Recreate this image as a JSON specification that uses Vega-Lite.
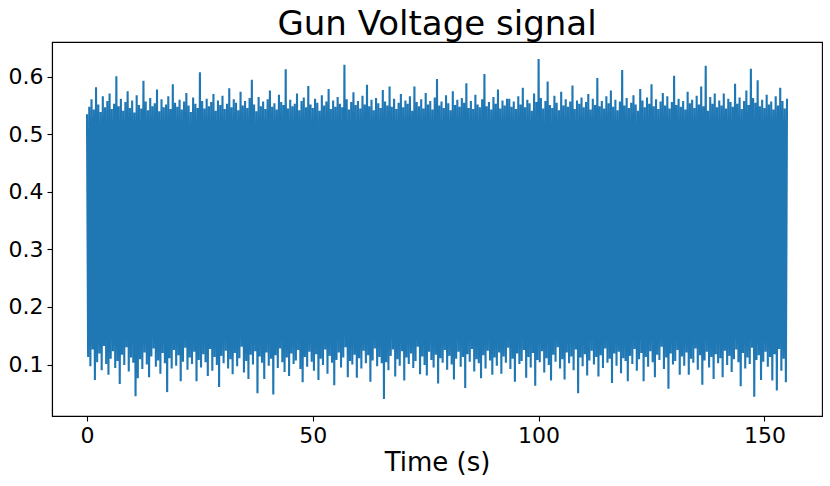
{
"$schema": "https://vega.github.io/schema/vega-lite/v6.json",
"width": 770,
"height": 374,
"autosize": "none",
"padding": {"left": 52, "top": 42, "right": 8, "bottom": 70},
"background": "white",
"title": {"text": "Gun Voltage signal", "font": "DejaVu Sans", "fontSize": 34, "fontWeight": "normal", "color": "black", "anchor": "middle", "baseline": "alphabetic", "offset": 9, "dy": 36},
"config": {
"view": {"stroke": "black", "strokeWidth": 1.1},
"axis": {"grid": false, "domainColor": "black", "domainWidth": 1.1, "tickColor": "black", "tickWidth": 1.1, "tickSize": 5, "labelColor": "black", "titleColor": "black", "labelFont": "DejaVu Sans", "titleFont": "DejaVu Sans", "labelFontSize": 22, "titleFontSize": 26, "titleFontWeight": "normal", "labelPadding": 4}
},
"data": {"values": [
{"t":0,"v":0.535},{"t":0.25,"v":0.113},{"t":0.5,"v":0.548},{"t":0.75,"v":0.097},{"t":1,"v":0.561},{"t":1.25,"v":0.126},{"t":1.5,"v":0.543},{"t":1.75,"v":0.073},{"t":2,"v":0.582},{"t":2.25,"v":0.104},{"t":2.5,"v":0.552},{"t":2.75,"v":0.119},{"t":3,"v":0.539},{"t":3.25,"v":0.090},{"t":3.5,"v":0.566},{"t":3.75,"v":0.132},{"t":4,"v":0.547},{"t":4.25,"v":0.101},{"t":4.5,"v":0.558},{"t":4.75,"v":0.082},{"t":5,"v":0.571},{"t":5.25,"v":0.110},{"t":5.5,"v":0.544},{"t":5.75,"v":0.123},{"t":6,"v":0.553},{"t":6.25,"v":0.094},{"t":6.5,"v":0.601},{"t":6.75,"v":0.106},{"t":7,"v":0.549},{"t":7.25,"v":0.066},{"t":7.5,"v":0.562},{"t":7.75,"v":0.117},{"t":8,"v":0.541},{"t":8.25,"v":0.099},{"t":8.5,"v":0.556},{"t":8.75,"v":0.130},{"t":9,"v":0.575},{"t":9.25,"v":0.088},{"t":9.5,"v":0.546},{"t":9.75,"v":0.112},
{"t":10,"v":0.559},{"t":10.25,"v":0.103},{"t":10.5,"v":0.538},{"t":10.75,"v":0.045},{"t":11,"v":0.568},{"t":11.25,"v":0.076},{"t":11.5,"v":0.551},{"t":11.75,"v":0.109},{"t":12,"v":0.545},{"t":12.25,"v":0.092},{"t":12.5,"v":0.593},{"t":12.75,"v":0.121},{"t":13,"v":0.557},{"t":13.25,"v":0.100},{"t":13.5,"v":0.542},{"t":13.75,"v":0.078},{"t":14,"v":0.563},{"t":14.25,"v":0.114},{"t":14.5,"v":0.549},{"t":14.75,"v":0.128},{"t":15,"v":0.554},{"t":15.25,"v":0.096},{"t":15.5,"v":0.578},{"t":15.75,"v":0.107},{"t":16,"v":0.540},{"t":16.25,"v":0.084},{"t":16.5,"v":0.561},{"t":16.75,"v":0.120},{"t":17,"v":0.547},{"t":17.25,"v":0.102},{"t":17.5,"v":0.552},{"t":17.75,"v":0.052},{"t":18,"v":0.566},{"t":18.25,"v":0.111},{"t":18.5,"v":0.544},{"t":18.75,"v":0.093},{"t":19,"v":0.587},{"t":19.25,"v":0.125},{"t":19.5,"v":0.555},{"t":19.75,"v":0.098},
{"t":20,"v":0.548},{"t":20.25,"v":0.116},{"t":20.5,"v":0.560},{"t":20.75,"v":0.071},{"t":21,"v":0.543},{"t":21.25,"v":0.105},{"t":21.5,"v":0.557},{"t":21.75,"v":0.129},{"t":22,"v":0.572},{"t":22.25,"v":0.091},{"t":22.5,"v":0.550},{"t":22.75,"v":0.112},{"t":23,"v":0.539},{"t":23.25,"v":0.101},{"t":23.5,"v":0.564},{"t":23.75,"v":0.122},{"t":24,"v":0.553},{"t":24.25,"v":0.071},{"t":24.5,"v":0.546},{"t":24.75,"v":0.108},{"t":25,"v":0.608},{"t":25.25,"v":0.095},{"t":25.5,"v":0.558},{"t":25.75,"v":0.118},{"t":26,"v":0.545},{"t":26.25,"v":0.104},{"t":26.5,"v":0.562},{"t":26.75,"v":0.080},{"t":27,"v":0.549},{"t":27.25,"v":0.127},{"t":27.5,"v":0.556},{"t":27.75,"v":0.089},{"t":28,"v":0.570},{"t":28.25,"v":0.113},{"t":28.5,"v":0.541},{"t":28.75,"v":0.099},{"t":29,"v":0.559},{"t":29.25,"v":0.061},{"t":29.5,"v":0.551},{"t":29.75,"v":0.115},
{"t":30,"v":0.567},{"t":30.25,"v":0.102},{"t":30.5,"v":0.544},{"t":30.75,"v":0.124},{"t":31,"v":0.553},{"t":31.25,"v":0.093},{"t":31.5,"v":0.580},{"t":31.75,"v":0.109},{"t":32,"v":0.547},{"t":32.25,"v":0.083},{"t":32.5,"v":0.561},{"t":32.75,"v":0.120},{"t":33,"v":0.555},{"t":33.25,"v":0.097},{"t":33.5,"v":0.542},{"t":33.75,"v":0.111},{"t":34,"v":0.574},{"t":34.25,"v":0.131},{"t":34.5,"v":0.550},{"t":34.75,"v":0.086},{"t":35,"v":0.558},{"t":35.25,"v":0.106},{"t":35.5,"v":0.546},{"t":35.75,"v":0.075},{"t":36,"v":0.563},{"t":36.25,"v":0.117},{"t":36.5,"v":0.595},{"t":36.75,"v":0.100},{"t":37,"v":0.552},{"t":37.25,"v":0.123},{"t":37.5,"v":0.540},{"t":37.75,"v":0.050},{"t":38,"v":0.565},{"t":38.25,"v":0.114},{"t":38.5,"v":0.549},{"t":38.75,"v":0.103},{"t":39,"v":0.557},{"t":39.25,"v":0.075},{"t":39.5,"v":0.544},{"t":39.75,"v":0.121},
{"t":40,"v":0.561},{"t":40.25,"v":0.098},{"t":40.5,"v":0.576},{"t":40.75,"v":0.110},{"t":41,"v":0.548},{"t":41.25,"v":0.048},{"t":41.5,"v":0.554},{"t":41.75,"v":0.116},{"t":42,"v":0.543},{"t":42.25,"v":0.094},{"t":42.5,"v":0.569},{"t":42.75,"v":0.128},{"t":43,"v":0.556},{"t":43.25,"v":0.104},{"t":43.5,"v":0.551},{"t":43.75,"v":0.087},{"t":44,"v":0.613},{"t":44.25,"v":0.112},{"t":44.5,"v":0.545},{"t":44.75,"v":0.080},{"t":45,"v":0.560},{"t":45.25,"v":0.119},{"t":45.5,"v":0.549},{"t":45.75,"v":0.101},{"t":46,"v":0.553},{"t":46.25,"v":0.107},{"t":46.5,"v":0.571},{"t":46.75,"v":0.125},{"t":47,"v":0.542},{"t":47.25,"v":0.092},{"t":47.5,"v":0.558},{"t":47.75,"v":0.069},{"t":48,"v":0.564},{"t":48.25,"v":0.113},{"t":48.5,"v":0.547},{"t":48.75,"v":0.096},{"t":49,"v":0.584},{"t":49.25,"v":0.122},{"t":49.5,"v":0.552},{"t":49.75,"v":0.105},
{"t":50,"v":0.546},{"t":50.25,"v":0.089},{"t":50.5,"v":0.562},{"t":50.75,"v":0.118},{"t":51,"v":0.555},{"t":51.25,"v":0.073},{"t":51.5,"v":0.541},{"t":51.75,"v":0.110},{"t":52,"v":0.568},{"t":52.25,"v":0.099},{"t":52.5,"v":0.550},{"t":52.75,"v":0.126},{"t":53,"v":0.557},{"t":53.25,"v":0.084},{"t":53.5,"v":0.579},{"t":53.75,"v":0.115},{"t":54,"v":0.544},{"t":54.25,"v":0.103},{"t":54.5,"v":0.559},{"t":54.75,"v":0.064},{"t":55,"v":0.548},{"t":55.25,"v":0.108},{"t":55.5,"v":0.565},{"t":55.75,"v":0.121},{"t":56,"v":0.553},{"t":56.25,"v":0.095},{"t":56.5,"v":0.547},{"t":56.75,"v":0.112},{"t":57,"v":0.621},{"t":57.25,"v":0.130},{"t":57.5,"v":0.561},{"t":57.75,"v":0.078},{"t":58,"v":0.543},{"t":58.25,"v":0.106},{"t":58.5,"v":0.556},{"t":58.75,"v":0.100},{"t":59,"v":0.573},{"t":59.25,"v":0.117},{"t":59.5,"v":0.551},{"t":59.75,"v":0.077},
{"t":60,"v":0.558},{"t":60.25,"v":0.111},{"t":60.5,"v":0.545},{"t":60.75,"v":0.093},{"t":61,"v":0.567},{"t":61.25,"v":0.124},{"t":61.5,"v":0.552},{"t":61.75,"v":0.102},{"t":62,"v":0.586},{"t":62.25,"v":0.116},{"t":62.5,"v":0.549},{"t":62.75,"v":0.070},{"t":63,"v":0.560},{"t":63.25,"v":0.107},{"t":63.5,"v":0.542},{"t":63.75,"v":0.128},{"t":64,"v":0.563},{"t":64.25,"v":0.097},{"t":64.5,"v":0.554},{"t":64.75,"v":0.113},{"t":65,"v":0.546},{"t":65.25,"v":0.102},{"t":65.5,"v":0.577},{"t":65.75,"v":0.040},{"t":66,"v":0.557},{"t":66.25,"v":0.104},{"t":66.5,"v":0.550},{"t":66.75,"v":0.090},{"t":67,"v":0.583},{"t":67.25,"v":0.115},{"t":67.5,"v":0.548},{"t":67.75,"v":0.126},{"t":68,"v":0.562},{"t":68.25,"v":0.079},{"t":68.5,"v":0.544},{"t":68.75,"v":0.109},{"t":69,"v":0.555},{"t":69.25,"v":0.098},{"t":69.5,"v":0.570},{"t":69.75,"v":0.123},
{"t":70,"v":0.547},{"t":70.25,"v":0.072},{"t":70.5,"v":0.559},{"t":70.75,"v":0.112},{"t":71,"v":0.553},{"t":71.25,"v":0.101},{"t":71.5,"v":0.566},{"t":71.75,"v":0.119},{"t":72,"v":0.541},{"t":72.25,"v":0.094},{"t":72.5,"v":0.583},{"t":72.75,"v":0.106},{"t":73,"v":0.556},{"t":73.25,"v":0.131},{"t":73.5,"v":0.549},{"t":73.75,"v":0.083},{"t":74,"v":0.561},{"t":74.25,"v":0.114},{"t":74.5,"v":0.545},{"t":74.75,"v":0.099},{"t":75,"v":0.572},{"t":75.25,"v":0.081},{"t":75.5,"v":0.552},{"t":75.75,"v":0.122},{"t":76,"v":0.558},{"t":76.25,"v":0.108},{"t":76.5,"v":0.543},{"t":76.75,"v":0.095},{"t":77,"v":0.564},{"t":77.25,"v":0.117},{"t":77.5,"v":0.596},{"t":77.75,"v":0.067},{"t":78,"v":0.550},{"t":78.25,"v":0.111},{"t":78.5,"v":0.557},{"t":78.75,"v":0.103},{"t":79,"v":0.546},{"t":79.25,"v":0.125},{"t":79.5,"v":0.568},{"t":79.75,"v":0.091},
{"t":80,"v":0.554},{"t":80.25,"v":0.115},{"t":80.5,"v":0.542},{"t":80.75,"v":0.100},{"t":81,"v":0.575},{"t":81.25,"v":0.074},{"t":81.5,"v":0.551},{"t":81.75,"v":0.110},{"t":82,"v":0.560},{"t":82.25,"v":0.122},{"t":82.5,"v":0.548},{"t":82.75,"v":0.096},{"t":83,"v":0.563},{"t":83.25,"v":0.113},{"t":83.5,"v":0.555},{"t":83.75,"v":0.059},{"t":84,"v":0.589},{"t":84.25,"v":0.118},{"t":84.5,"v":0.546},{"t":84.75,"v":0.105},{"t":85,"v":0.558},{"t":85.25,"v":0.127},{"t":85.5,"v":0.544},{"t":85.75,"v":0.088},{"t":86,"v":0.569},{"t":86.25,"v":0.109},{"t":86.5,"v":0.552},{"t":86.75,"v":0.102},{"t":87,"v":0.547},{"t":87.25,"v":0.076},{"t":87.5,"v":0.561},{"t":87.75,"v":0.116},{"t":88,"v":0.605},{"t":88.25,"v":0.093},{"t":88.5,"v":0.549},{"t":88.75,"v":0.124},{"t":89,"v":0.556},{"t":89.25,"v":0.107},{"t":89.5,"v":0.543},{"t":89.75,"v":0.082},
{"t":90,"v":0.565},{"t":90.25,"v":0.112},{"t":90.5,"v":0.553},{"t":90.75,"v":0.098},{"t":91,"v":0.578},{"t":91.25,"v":0.121},{"t":91.5,"v":0.545},{"t":91.75,"v":0.084},{"t":92,"v":0.559},{"t":92.25,"v":0.114},{"t":92.5,"v":0.550},{"t":92.75,"v":0.103},{"t":93,"v":0.562},{"t":93.25,"v":0.129},{"t":93.5,"v":0.562},{"t":93.75,"v":0.092},{"t":94,"v":0.548},{"t":94.25,"v":0.110},{"t":94.5,"v":0.557},{"t":94.75,"v":0.070},{"t":95,"v":0.544},{"t":95.25,"v":0.119},{"t":95.5,"v":0.566},{"t":95.75,"v":0.101},{"t":96,"v":0.552},{"t":96.25,"v":0.106},{"t":96.5,"v":0.581},{"t":96.75,"v":0.125},{"t":97,"v":0.547},{"t":97.25,"v":0.077},{"t":97.5,"v":0.560},{"t":97.75,"v":0.113},{"t":98,"v":0.554},{"t":98.25,"v":0.095},{"t":98.5,"v":0.541},{"t":98.75,"v":0.120},{"t":99,"v":0.571},{"t":99.25,"v":0.063},{"t":99.5,"v":0.556},{"t":99.75,"v":0.108},
{"t":100,"v":0.631},{"t":100.25,"v":0.104},{"t":100.5,"v":0.563},{"t":100.75,"v":0.123},{"t":101,"v":0.545},{"t":101.25,"v":0.086},{"t":101.5,"v":0.558},{"t":101.75,"v":0.111},{"t":102,"v":0.592},{"t":102.25,"v":0.099},{"t":102.5,"v":0.551},{"t":102.75,"v":0.072},{"t":103,"v":0.546},{"t":103.25,"v":0.117},{"t":103.5,"v":0.567},{"t":103.75,"v":0.105},{"t":104,"v":0.555},{"t":104.25,"v":0.130},{"t":104.5,"v":0.542},{"t":104.75,"v":0.093},{"t":105,"v":0.574},{"t":105.25,"v":0.109},{"t":105.5,"v":0.550},{"t":105.75,"v":0.074},{"t":106,"v":0.561},{"t":106.25,"v":0.121},{"t":106.5,"v":0.548},{"t":106.75,"v":0.102},{"t":107,"v":0.557},{"t":107.25,"v":0.114},{"t":107.5,"v":0.585},{"t":107.75,"v":0.090},{"t":108,"v":0.544},{"t":108.25,"v":0.126},{"t":108.5,"v":0.559},{"t":108.75,"v":0.050},{"t":109,"v":0.553},{"t":109.25,"v":0.112},{"t":109.5,"v":0.564},{"t":109.75,"v":0.097},
{"t":110,"v":0.547},{"t":110.25,"v":0.118},{"t":110.5,"v":0.556},{"t":110.75,"v":0.081},{"t":111,"v":0.570},{"t":111.25,"v":0.107},{"t":111.5,"v":0.543},{"t":111.75,"v":0.124},{"t":112,"v":0.562},{"t":112.25,"v":0.100},{"t":112.5,"v":0.551},{"t":112.75,"v":0.113},{"t":113,"v":0.598},{"t":113.25,"v":0.079},{"t":113.5,"v":0.549},{"t":113.75,"v":0.116},{"t":114,"v":0.558},{"t":114.25,"v":0.094},{"t":114.5,"v":0.545},{"t":114.75,"v":0.128},{"t":115,"v":0.566},{"t":115.25,"v":0.103},{"t":115.5,"v":0.554},{"t":115.75,"v":0.110},{"t":116,"v":0.576},{"t":116.25,"v":0.068},{"t":116.5,"v":0.548},{"t":116.75,"v":0.119},{"t":117,"v":0.560},{"t":117.25,"v":0.098},{"t":117.5,"v":0.542},{"t":117.75,"v":0.122},{"t":118,"v":0.557},{"t":118.25,"v":0.085},{"t":118.5,"v":0.612},{"t":118.75,"v":0.111},{"t":119,"v":0.550},{"t":119.25,"v":0.106},{"t":119.5,"v":0.563},{"t":119.75,"v":0.071},
{"t":120,"v":0.546},{"t":120.25,"v":0.115},{"t":120.5,"v":0.555},{"t":120.75,"v":0.101},{"t":121,"v":0.568},{"t":121.25,"v":0.127},{"t":121.5,"v":0.552},{"t":121.75,"v":0.089},{"t":122,"v":0.541},{"t":122.25,"v":0.109},{"t":122.5,"v":0.579},{"t":122.75,"v":0.120},{"t":123,"v":0.559},{"t":123.25,"v":0.071},{"t":123.5,"v":0.547},{"t":123.75,"v":0.113},{"t":124,"v":0.564},{"t":124.25,"v":0.096},{"t":124.5,"v":0.553},{"t":124.75,"v":0.123},{"t":125,"v":0.587},{"t":125.25,"v":0.104},{"t":125.5,"v":0.549},{"t":125.75,"v":0.078},{"t":126,"v":0.561},{"t":126.25,"v":0.117},{"t":126.5,"v":0.544},{"t":126.75,"v":0.108},{"t":127,"v":0.557},{"t":127.25,"v":0.131},{"t":127.5,"v":0.572},{"t":127.75,"v":0.092},{"t":128,"v":0.550},{"t":128.25,"v":0.112},{"t":128.5,"v":0.566},{"t":128.75,"v":0.058},{"t":129,"v":0.545},{"t":129.25,"v":0.119},{"t":129.5,"v":0.556},{"t":129.75,"v":0.100},
{"t":130,"v":0.602},{"t":130.25,"v":0.106},{"t":130.5,"v":0.551},{"t":130.75,"v":0.125},{"t":131,"v":0.562},{"t":131.25,"v":0.082},{"t":131.5,"v":0.548},{"t":131.75,"v":0.114},{"t":132,"v":0.558},{"t":132.25,"v":0.098},{"t":132.5,"v":0.543},{"t":132.75,"v":0.121},{"t":133,"v":0.574},{"t":133.25,"v":0.082},{"t":133.5,"v":0.554},{"t":133.75,"v":0.110},{"t":134,"v":0.560},{"t":134.25,"v":0.103},{"t":134.5,"v":0.546},{"t":134.75,"v":0.128},{"t":135,"v":0.567},{"t":135.25,"v":0.091},{"t":135.5,"v":0.552},{"t":135.75,"v":0.116},{"t":136,"v":0.583},{"t":136.25,"v":0.065},{"t":136.5,"v":0.549},{"t":136.75,"v":0.107},{"t":137,"v":0.619},{"t":137.25,"v":0.122},{"t":137.5,"v":0.541},{"t":137.75,"v":0.095},{"t":138,"v":0.565},{"t":138.25,"v":0.113},{"t":138.5,"v":0.553},{"t":138.75,"v":0.075},{"t":139,"v":0.571},{"t":139.25,"v":0.118},{"t":139.5,"v":0.547},{"t":139.75,"v":0.102},
{"t":140,"v":0.559},{"t":140.25,"v":0.111},{"t":140.5,"v":0.550},{"t":140.75,"v":0.078},{"t":141,"v":0.571},{"t":141.25,"v":0.124},{"t":141.5,"v":0.545},{"t":141.75,"v":0.099},{"t":142,"v":0.562},{"t":142.25,"v":0.115},{"t":142.5,"v":0.556},{"t":142.75,"v":0.087},{"t":143,"v":0.548},{"t":143.25,"v":0.109},{"t":143.5,"v":0.588},{"t":143.75,"v":0.126},{"t":144,"v":0.553},{"t":144.25,"v":0.104},{"t":144.5,"v":0.564},{"t":144.75,"v":0.062},{"t":145,"v":0.544},{"t":145.25,"v":0.120},{"t":145.5,"v":0.558},{"t":145.75,"v":0.093},{"t":146,"v":0.576},{"t":146.25,"v":0.112},{"t":146.5,"v":0.551},{"t":146.75,"v":0.101},{"t":147,"v":0.614},{"t":147.25,"v":0.129},{"t":147.5,"v":0.563},{"t":147.75,"v":0.044},{"t":148,"v":0.555},{"t":148.25,"v":0.108},{"t":148.5,"v":0.594},{"t":148.75,"v":0.116},{"t":149,"v":0.549},{"t":149.25,"v":0.073},{"t":149.5,"v":0.560},{"t":149.75,"v":0.105},
{"t":150,"v":0.546},{"t":150.25,"v":0.122},{"t":150.5,"v":0.569},{"t":150.75,"v":0.096},{"t":151,"v":0.552},{"t":151.25,"v":0.113},{"t":151.5,"v":0.557},{"t":151.75,"v":0.072},{"t":152,"v":0.543},{"t":152.25,"v":0.118},{"t":152.5,"v":0.566},{"t":152.75,"v":0.055},{"t":153,"v":0.550},{"t":153.25,"v":0.127},{"t":153.5,"v":0.581},{"t":153.75,"v":0.089},{"t":154,"v":0.558},{"t":154.25,"v":0.110},{"t":154.5,"v":0.545},{"t":154.75,"v":0.069},{"t":155,"v":0.562}
]},
"mark": {"type": "line", "color": "#1f77b4", "strokeWidth": 2.1},
"encoding": {
"x": {"field": "t", "type": "quantitative", "title": "Time (s)",
"scale": {"domain": [-7.75, 162.75], "nice": false, "zero": false},
"axis": {"values": [0, 50, 100, 150], "format": "d", "titleBaseline": "alphabetic", "titleY": 54}},
"y": {"field": "v", "type": "quantitative", "title": null,
"scale": {"domain": [0.0105, 0.6605], "nice": false, "zero": false},
"axis": {"values": [0.1, 0.2, 0.3, 0.4, 0.5, 0.6], "format": ".1f"}}
}
}
